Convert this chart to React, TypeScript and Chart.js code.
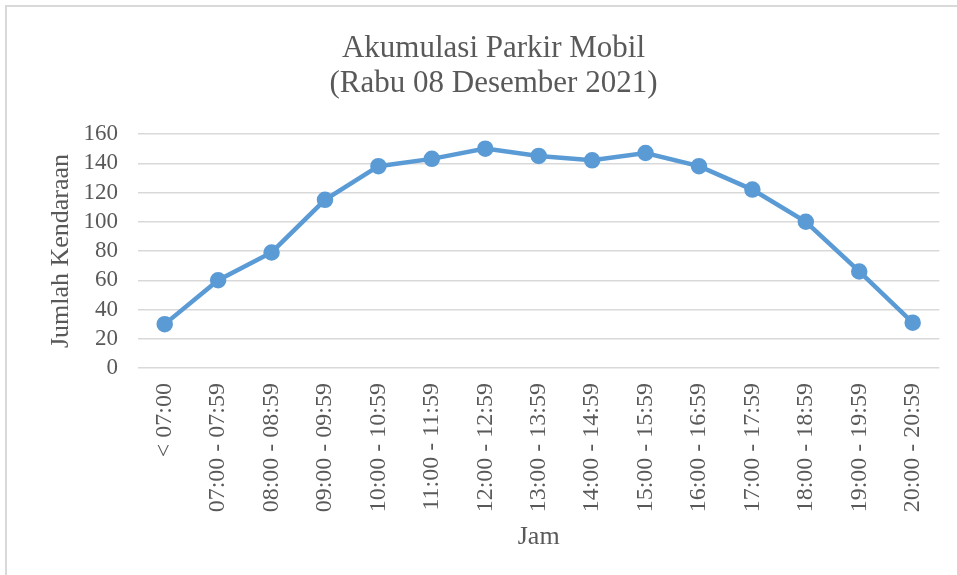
import React, { useEffect, useRef } from "react";
import { Chart, registerables } from "chart.js";

Chart.register(...registerables);

const categories: string[] = [
  "< 07:00",
  "07:00 - 07:59",
  "08:00 - 08:59",
  "09:00 - 09:59",
  "10:00 - 10:59",
  "11:00 - 11:59",
  "12:00 - 12:59",
  "13:00 - 13:59",
  "14:00 - 14:59",
  "15:00 - 15:59",
  "16:00 - 16:59",
  "17:00 - 17:59",
  "18:00 - 18:59",
  "19:00 - 19:59",
  "20:00 - 20:59",
];

const values: number[] = [30, 60, 79, 115, 138, 143, 150, 145, 142, 147, 138, 122, 100, 66, 31];

const titleLines: string[] = ["Akumulasi Parkir Mobil", "(Rabu 08 Desember 2021)"];
const yTitle = "Jumlah Kendaraan";
const xTitle = "Jam";

const FONT = "'Liberation Serif', 'Times New Roman', serif";
const TEXT = "#595959";
const LINE = "#5b9bd5";
const GRID = "#d9d9d9";

export default function App() {
  const ref = useRef<HTMLCanvasElement | null>(null);

  useEffect(() => {
    document.body.style.margin = "0";
    const canvas = ref.current;
    if (!canvas) return;
    const chart = new Chart(canvas, {
      type: "line",
      data: {
        labels: categories,
        datasets: [
          {
            data: values,
            borderColor: LINE,
            backgroundColor: LINE,
            borderWidth: 4.5,
            pointRadius: 6,
            pointBackgroundColor: LINE,
            pointBorderColor: LINE,
            tension: 0,
          },
        ],
      },
      options: {
        responsive: false,
        animation: false,
        devicePixelRatio: 1,
        layout: { padding: { left: 46, right: 16, top: 10, bottom: 20 } },
        plugins: {
          legend: { display: false },
          tooltip: { enabled: false },
          title: {
            display: true,
            text: titleLines,
            color: TEXT,
            font: { family: FONT, size: 31, weight: "normal", lineHeight: 35 / 31 },
            padding: { top: 21, bottom: 33 },
          },
        },
        scales: {
          x: {
            offset: true,
            grid: { display: false, drawTicks: false },
            border: { display: false },
            ticks: {
              color: TEXT,
              font: { family: FONT, size: 24 },
              maxRotation: 90,
              minRotation: 90,
              autoSkip: false,
              padding: 15,
            },
            title: {
              display: true,
              text: xTitle,
              color: TEXT,
              font: { family: FONT, size: 26 },
              padding: { top: 0, bottom: 2 },
            },
            afterFit: (scale: any) => {
              scale.height = 187;
            },
          },
          y: {
            min: 0,
            max: 160,
            ticks: {
              stepSize: 20,
              autoSkip: false,
              color: TEXT,
              font: { family: FONT, size: 23 },
              padding: 20,
            },
            grid: { color: GRID, lineWidth: 1.5, drawTicks: false },
            border: { display: false },
            title: {
              display: true,
              text: yTitle,
              color: TEXT,
              font: { family: FONT, size: 26 },
              padding: { top: 0, bottom: 0 },
            },
            afterFit: (scale: any) => {
              scale.width = 92;
            },
          },
        },
      },
    });
    return () => chart.destroy();
  }, []);

  return (
    <div style={{ position: "relative", width: 957, height: 575, overflow: "hidden", background: "#fff" }}>
      <canvas ref={ref} width={957} height={575} style={{ display: "block" }} />
      <div
        style={{
          position: "absolute",
          left: 5,
          top: 5,
          width: 1000,
          height: 1000,
          border: "2px solid #d9d9d9",
          pointerEvents: "none",
        }}
      />
    </div>
  );
}
